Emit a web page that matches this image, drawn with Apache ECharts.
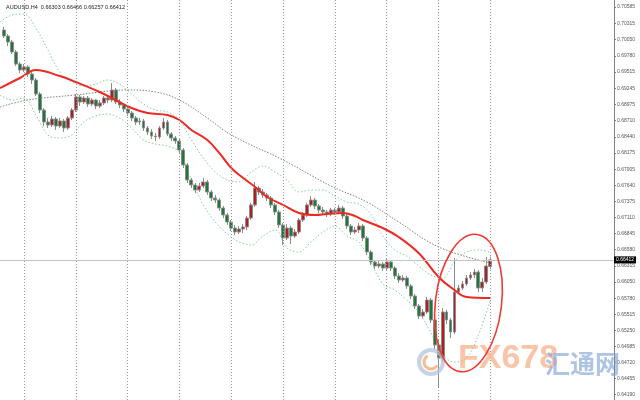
<!DOCTYPE html>
<html><head><meta charset="utf-8">
<script src="https://cdn.jsdelivr.net/npm/echarts@6/dist/echarts.min.js"></script>
<style>html,body{margin:0;padding:0;background:#fff}#c{width:640px;height:400px}</style>
</head><body><div id="c"></div>
<script>
const header = 'AUDUSD,H4  0.66303 0.66466 0.66257 0.66412';
const tickLabels = [0.70585,0.70315,0.70050,0.69780,0.69515,0.69245,0.68975,0.68710,0.68440,0.68175,0.67905,0.67640,0.67375,0.67110,0.66845,0.66580,0.66315,0.66050,0.65780,0.65515,0.65250,0.64985,0.64720,0.64455,0.64190];
const lastPrice = 0.66412;
const gridBars = [5,18,31,44,57,70,83,96,109,122];

const opens = [0.70205,0.70106,0.70007,0.69842,0.69644,0.69545,0.69595,0.69479,0.69380,0.69149,
0.68885,0.68687,0.68638,0.68737,0.68621,0.68704,0.68588,0.68753,0.68885,0.69100,
0.69017,0.69083,0.68984,0.69050,0.68951,0.69001,0.69083,0.69050,0.69215,0.69017,
0.68968,0.68902,0.68836,0.68753,0.68687,0.68704,0.68588,0.68522,0.68456,0.68440,
0.68588,0.68687,0.68489,0.68423,0.68374,0.68225,0.67978,0.67730,0.67648,0.67565,
0.67631,0.67697,0.67532,0.67433,0.67400,0.67268,0.67153,0.67037,0.66938,0.66872,
0.66922,0.66955,0.67103,0.67318,0.67598,0.67532,0.67483,0.67433,0.67318,0.67202,
0.66988,0.66773,0.66938,0.66806,0.66872,0.67070,0.67153,0.67318,0.67400,0.67301,
0.67235,0.67202,0.67169,0.67235,0.67202,0.67268,0.67136,0.66971,0.66872,0.66905,
0.66971,0.66773,0.66542,0.66377,0.66311,0.66344,0.66278,0.66377,0.66278,0.66146,
0.66080,0.66113,0.65981,0.65816,0.65651,0.65486,0.65552,0.65750,0.65420,0.65008,
0.64793,0.65552,0.65420,0.65222,0.65882,0.65948,0.66014,0.66113,0.66163,0.66212,
0.65948,0.66047,0.66303];
const closes = [0.70106,0.70007,0.69842,0.69644,0.69545,0.69595,0.69479,0.69380,0.69149,0.68885,
0.68687,0.68638,0.68737,0.68621,0.68704,0.68588,0.68753,0.68885,0.69100,0.69017,
0.69083,0.68984,0.69050,0.68951,0.69001,0.69083,0.69050,0.69215,0.69017,0.68968,
0.68902,0.68836,0.68753,0.68687,0.68704,0.68588,0.68522,0.68456,0.68440,0.68588,
0.68687,0.68489,0.68423,0.68374,0.68225,0.67978,0.67730,0.67648,0.67565,0.67631,
0.67697,0.67532,0.67433,0.67400,0.67268,0.67153,0.67037,0.66938,0.66872,0.66922,
0.66955,0.67103,0.67318,0.67598,0.67532,0.67483,0.67433,0.67318,0.67202,0.66988,
0.66773,0.66938,0.66806,0.66872,0.67070,0.67153,0.67318,0.67400,0.67301,0.67235,
0.67202,0.67169,0.67235,0.67202,0.67268,0.67136,0.66971,0.66872,0.66905,0.66971,
0.66773,0.66542,0.66377,0.66311,0.66344,0.66278,0.66377,0.66278,0.66146,0.66080,
0.66113,0.65981,0.65816,0.65651,0.65486,0.65552,0.65750,0.65420,0.65008,0.64793,
0.65552,0.65420,0.65222,0.65882,0.65948,0.66014,0.66113,0.66163,0.66212,0.65948,
0.66047,0.66311,0.66412];
const lows = [0.70073,0.69941,0.69809,0.69611,0.69496,0.69512,0.69430,0.69314,0.69116,0.68836,
0.68621,0.68588,0.68605,0.68555,0.68588,0.68522,0.68555,0.68720,0.68852,0.68951,
0.68984,0.68935,0.68951,0.68902,0.68918,0.68968,0.69001,0.69017,0.68984,0.68918,
0.68852,0.68786,0.68704,0.68638,0.68638,0.68539,0.68473,0.68407,0.68374,0.68407,
0.68555,0.68456,0.68374,0.68324,0.68176,0.67928,0.67681,0.67598,0.67516,0.67532,
0.67598,0.67483,0.67384,0.67351,0.67219,0.67103,0.66988,0.66889,0.66823,0.66839,
0.66856,0.66905,0.67070,0.67285,0.67483,0.67433,0.67384,0.67268,0.67153,0.66938,
0.66658,0.66740,0.66674,0.66773,0.66839,0.67037,0.67120,0.67285,0.67252,0.67186,
0.67153,0.67120,0.67136,0.67153,0.67169,0.67087,0.66922,0.66823,0.66839,0.66856,
0.66724,0.66493,0.66328,0.66262,0.66278,0.66229,0.66245,0.66229,0.66097,0.66031,
0.66047,0.65932,0.65767,0.65602,0.65437,0.65453,0.65519,0.65371,0.64942,0.64298,
0.64727,0.65354,0.65123,0.65189,0.65849,0.65915,0.65981,0.66080,0.66113,0.65882,
0.65882,0.66014,0.66257];
const highs = [0.70255,0.70139,0.70040,0.69875,0.69677,0.69644,0.69628,0.69512,0.69413,0.69182,
0.68918,0.68753,0.68786,0.68770,0.68753,0.68737,0.68786,0.68918,0.69149,0.69133,
0.69116,0.69116,0.69083,0.69067,0.69050,0.69116,0.69133,0.69331,0.69248,0.69067,
0.69001,0.68951,0.68869,0.68786,0.68753,0.68737,0.68621,0.68572,0.68506,0.68621,
0.68753,0.68720,0.68522,0.68456,0.68407,0.68258,0.68011,0.67763,0.67681,0.67681,
0.67763,0.67730,0.67565,0.67483,0.67433,0.67301,0.67186,0.67070,0.66988,0.66971,
0.67004,0.67136,0.67351,0.67697,0.67631,0.67582,0.67516,0.67466,0.67351,0.67235,
0.67021,0.67004,0.66971,0.66922,0.67103,0.67202,0.67351,0.67466,0.67433,0.67334,
0.67285,0.67235,0.67268,0.67268,0.67318,0.67301,0.67169,0.67004,0.66955,0.67021,
0.67004,0.66806,0.66575,0.66410,0.66394,0.66377,0.66427,0.66410,0.66311,0.66196,
0.66163,0.66146,0.66014,0.65849,0.65684,0.65602,0.65800,0.65783,0.65453,0.65090,
0.65618,0.65585,0.65453,0.66443,0.65998,0.66064,0.66163,0.66212,0.66262,0.66245,
0.66113,0.66460,0.66466];

// [bar index, price]
const maFast = [[-1,0.69248],[4,0.69413],[8,0.69545],[14,0.69446],[18,0.69347],[24,0.69182],[28,0.69050],[32,0.68918],[36,0.68836],[41,0.68803],[44,0.68720],[47,0.68555],[51,0.68390],[54,0.68176],[57,0.67928],[60,0.67763],[63,0.67615],[66,0.67450],[70,0.67318],[74,0.67186],[78,0.67153],[81,0.67169],[85,0.67186],[88,0.67136],[90,0.67070],[95,0.66938],[99,0.66790],[104,0.66526],[109,0.66130],[113,0.65915],[116,0.65800],[122,0.65783]];
const maSlow = [[-1,0.68935],[6,0.69050],[18,0.69133],[31,0.69215],[38,0.69182],[44,0.69050],[51,0.68753],[57,0.68473],[70,0.68060],[82,0.67631],[91,0.67367],[99,0.67037],[109,0.66625],[122,0.66361]];
const bandUpper = [[-1,0.70337],[2,0.70453],[5,0.70469],[8,0.70238],[11,0.69875],[14,0.69512],[17,0.69347],[20,0.69281],[23,0.69314],[26,0.69380],[29,0.69314],[32,0.69149],[35,0.68984],[38,0.68885],[41,0.68852],[44,0.68720],[47,0.68390],[50,0.68093],[53,0.67862],[56,0.67730],[59,0.67697],[62,0.67862],[65,0.67961],[68,0.67862],[71,0.67730],[74,0.67532],[77,0.67565],[80,0.67565],[83,0.67466],[86,0.67367],[89,0.67334],[92,0.67169],[95,0.66806],[98,0.66575],[101,0.66476],[104,0.66311],[107,0.66163],[110,0.66113],[113,0.66377],[116,0.66542],[119,0.66575],[122,0.66542]];
const bandLower = [[-1,0.69133],[2,0.69050],[5,0.69083],[8,0.68803],[11,0.68473],[14,0.68423],[17,0.68473],[20,0.68687],[23,0.68786],[26,0.68819],[29,0.68753],[32,0.68588],[35,0.68390],[38,0.68324],[41,0.68291],[44,0.68192],[47,0.67730],[50,0.67318],[53,0.67037],[56,0.66839],[59,0.66707],[62,0.66658],[65,0.66806],[68,0.66905],[71,0.66608],[74,0.66542],[77,0.66707],[80,0.66872],[83,0.66971],[86,0.66806],[89,0.66707],[92,0.66377],[95,0.66014],[98,0.65915],[101,0.65750],[104,0.65552],[107,0.65222],[110,0.64843],[113,0.64727],[116,0.64793],[119,0.65173],[122,0.65750]];

const ellipseCenter = [116.5, 0.6570];
const ellipseHalf = [8.3, 0.0114];

const chart = echarts.init(document.getElementById('c'));
const candles = opens.map((o, i) => [i, o, closes[i], lows[i], highs[i]]);
const FONT = 'Liberation Sans, DejaVu Sans, sans-serif';

chart.setOption({
  animation: false,
  backgroundColor: '#fff',
  title: {text: header, left: 6, top: 4, padding: 0, textStyle: {fontSize: 5.5, fontWeight: 'normal', color: '#222', fontFamily: FONT}},
  grid: {left: 0, right: 26, top: 0, bottom: 0},
  xAxis: {type: 'value', min: -1, max: 153, show: false},
  yAxis: {
    type: 'value', position: 'right', min: 0.641, max: 0.707,
    axisLine: {show: true, onZero: false, lineStyle: {color: '#808080', width: 1}},
    axisTick: {show: true, customValues: tickLabels, length: 2, lineStyle: {color: '#808080'}},
    axisLabel: {show: true, customValues: tickLabels, fontSize: 5, color: '#555', margin: 3, fontFamily: FONT, formatter: v => v.toFixed(5)},
    splitLine: {show: false}
  },
  series: [
    {type: 'line', data: bandUpper, smooth: 0.35, symbol: 'none', lineStyle: {color: '#84cf9c', width: 1, type: [1.5, 2]}, z: 1},
    {type: 'line', data: bandLower, smooth: 0.35, symbol: 'none', lineStyle: {color: '#84cf9c', width: 1, type: [1.5, 2]}, z: 1},
    {type: 'line', data: maSlow, smooth: 0.4, symbol: 'none', lineStyle: {color: '#808080', width: 1, type: [1.5, 1.5]}, z: 2,
      markLine: {silent: true, symbol: 'none', animation: false, precision: 5,
        lineStyle: {color: '#9a9a9a', type: [1, 2], width: 1},
        label: {show: false},
        data: gridBars.map(b => ({xAxis: b}))
      }
    },
    {type: 'line', data: [], symbol: 'none', z: 2,
      markLine: {silent: true, symbol: 'none', animation: false, precision: 5,
        data: [{yAxis: lastPrice, lineStyle: {color: '#c4c4c4', type: 'solid', width: 1},
          label: {show: true, position: 'end', distance: 0, formatter: lastPrice.toFixed(5), backgroundColor: '#000', color: '#fff', fontSize: 5, fontFamily: FONT, padding: [1, 2, 1, 2]}}]
      }
    },
    {type: 'candlestick', data: candles, barWidth: 3.4, z: 3,
      itemStyle: {color: '#b01e1e', color0: '#1b7a3a', borderColor: '#8c8c8c', borderColor0: '#8c8c8c', borderWidth: 1}
    },
    {type: 'line', data: maFast, smooth: 0.4, symbol: 'none', lineStyle: {color: '#ec2a24', width: 2}, z: 4}
  ]
});

const c0 = chart.convertToPixel({gridIndex: 0}, ellipseCenter);
const c1 = chart.convertToPixel({gridIndex: 0}, [ellipseCenter[0] + ellipseHalf[0], ellipseCenter[1] - ellipseHalf[1]]);
const rx = Math.abs(c1[0] - c0[0]), ry = Math.abs(c1[1] - c0[1]);

chart.setOption({
  graphic: [
    {type: 'ellipse', shape: {cx: c0[0], cy: c0[1], rx: rx, ry: ry}, originX: c0[0], originY: c0[1], rotation: -0.12,
      style: {fill: 'none', stroke: '#ee3a33', lineWidth: 1.6}, z: 10},
    {type: 'circle', shape: {cx: 431, cy: 362, r: 12}, style: {fill: 'none', stroke: 'rgba(180,195,220,0.75)', lineWidth: 4}, z: 9},
    {type: 'arc', shape: {cx: 431, cy: 362, r: 7, startAngle: 0.5, endAngle: 4.2}, style: {fill: 'none', stroke: 'rgba(245,170,120,0.8)', lineWidth: 3}, z: 9},
    {type: 'text', x: 458, y: 376, style: {text: 'FX678', font: 'bold 34px "Liberation Sans", sans-serif', fill: 'rgba(245,160,115,0.62)', textVerticalAlign: 'bottom'}, z: 9},
    {type: 'text', x: 545, y: 376, style: {text: '汇通网', font: 'bold 25px "Noto Sans CJK SC", sans-serif', fill: 'rgba(130,165,215,0.65)', textVerticalAlign: 'bottom'}, z: 9}
  ]
});
</script>
</body></html>
